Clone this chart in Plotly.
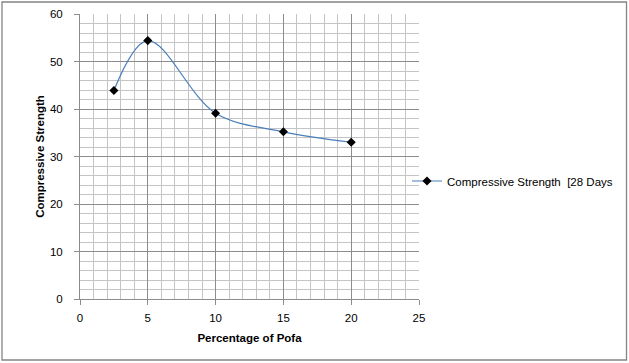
import plotly.graph_objects as go

pofa_pct = [2.5, 5, 10, 15, 20]
strength_28d = [43.9, 54.4, 39.1, 35.2, 33.0]
series_name = "Compressive Strength  [28 Days"

W, H = 629, 363
L, R, T, B = 80, 210, 14, 64
pw, ph = W - L - R, H - T - B

fig = go.Figure()
fig.add_trace(go.Scatter(
    x=pofa_pct, y=strength_28d, name=series_name,
    mode="lines+markers",
    line=dict(color="#4A7EBB", width=1.2, shape="spline", smoothing=1.0),
    marker=dict(symbol="diamond", color="black", size=7),
))

font = "Liberation Sans"
fs = 11.5
fig.update_layout(
    width=W, height=H,
    margin=dict(l=L, r=R, t=T, b=B, autoexpand=False),
    paper_bgcolor="white", plot_bgcolor="white",
    font=dict(family=font, size=fs, color="black"),
    showlegend=True,
    legend=dict(x=(407 - L) / pw, xanchor="left", y=(H - B - 181) / ph, yanchor="middle",
                font=dict(family=font, size=fs, color="black"),
                bgcolor="rgba(0,0,0,0)", itemwidth=30, tracegroupgap=0),
    xaxis=dict(range=[0, 25], dtick=5, tick0=0,
               showgrid=True, gridcolor="#8c8c8c", gridwidth=1,
               minor=dict(dtick=1, showgrid=True, gridcolor="#c4c4c4", gridwidth=1),
               showline=True, linecolor="#8c8c8c", linewidth=1,
               ticks="outside", ticklen=5, tickcolor="#8c8c8c",
               ticklabelstandoff=3,
               zeroline=False, fixedrange=True,
               title=dict(text="<b>Percentage of Pofa</b>", standoff=11,
                          font=dict(family=font, size=fs))),
    yaxis=dict(range=[0, 60], dtick=10, tick0=0,
               showgrid=True, gridcolor="#8c8c8c", gridwidth=1,
               minor=dict(dtick=2, showgrid=True, gridcolor="#c4c4c4", gridwidth=1),
               showline=True, linecolor="#8c8c8c", linewidth=1,
               ticks="outside", ticklen=5, tickcolor="#8c8c8c",
               ticklabelstandoff=9,
               zeroline=False, fixedrange=True,
               title=dict(text="<b>Compressive Strength</b>", standoff=2,
                          font=dict(family=font, size=fs))),
)

# outer chart frame
fig.add_shape(type="rect", xref="paper", yref="paper",
              x0=(2 - L) / pw, x1=(626.5 - L) / pw,
              y0=(H - B - 360) / ph, y1=(H - B - 2) / ph,
              line=dict(color="#848484", width=1.3), fillcolor="rgba(0,0,0,0)", layer="below")

fig.write_html("out.html", config={"displayModeBar": False},
               post_script="document.body.style.margin='0';document.body.style.padding='0';")
